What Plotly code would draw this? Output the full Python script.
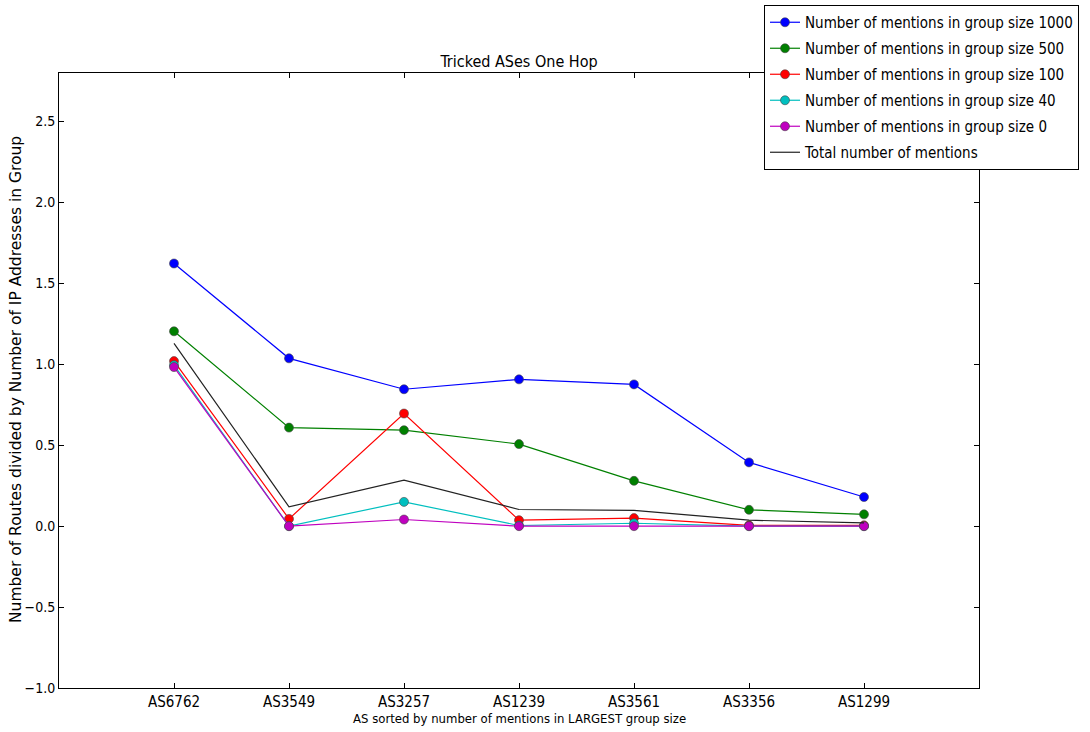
import plotly.graph_objects as go

# AS numbers, ordered by number of mentions in the largest group size
as_names = ["AS6762", "AS3549", "AS3257", "AS1239", "AS3561", "AS3356", "AS1299"]

# Routes divided by number of IP addresses in group, per group size
size_1000 = [1.623, 1.037, 0.846, 0.907, 0.876, 0.394, 0.180]
size_500 = [1.204, 0.609, 0.593, 0.507, 0.280, 0.101, 0.073]
size_100 = [1.020, 0.045, 0.696, 0.037, 0.050, 0.005, 0.005]
size_40 = [0.995, 0.000, 0.150, 0.004, 0.018, 0.000, 0.000]
size_0 = [0.983, 0.000, 0.041, 0.000, 0.000, 0.000, 0.000]
total = [1.130, 0.119, 0.284, 0.103, 0.097, 0.037, 0.020]

series = [
    ("Number of mentions in group size 1000", size_1000, "#0000ff"),
    ("Number of mentions in group size 500", size_500, "#008000"),
    ("Number of mentions in group size 100", size_100, "#ff0000"),
    ("Number of mentions in group size 40", size_40, "#00bfbf"),
    ("Number of mentions in group size 0", size_0, "#bf00bf"),
]

narrow = "DejaVu Sans Condensed, Liberation Sans Narrow, DejaVu Sans, sans-serif"

# plot area in pixels
L, R, T, B = 59, 979, 73, 688
W, H = 1090, 732
PW, PH = R - L, B - T

fig = go.Figure()
for i, (name, vals, color) in enumerate(series):
    fig.add_trace(go.Scatter(
        x=as_names, y=vals, name=name, mode="lines+markers",
        legendgroup=f"g{i}",
        line=dict(color=color, width=1.2),
        marker=dict(color=color, size=9, symbol="circle",
                    line=dict(color="#444444", width=0.6)),
    ))
fig.add_trace(go.Scatter(
    x=as_names, y=total, name="Total number of mentions", mode="lines",
    legendgroup="total",
    line=dict(color="#222222", width=1.2),
))

axis_common = dict(
    showgrid=False, zeroline=False, showline=True, linecolor="black",
    linewidth=1, mirror="allticks", ticks="inside", ticklen=5,
    tickcolor="black",
)

fig.update_layout(
    width=W, height=H,
    margin=dict(l=L, r=W - R, t=T, b=H - B, autoexpand=False),
    paper_bgcolor="white", plot_bgcolor="white",
    title=dict(text="Tricked ASes One Hop", x=(L + R) / 2 / W,
               xanchor="center", y=1 - 61 / H, yanchor="middle",
               font=dict(family=narrow, size=16, color="black")),
    xaxis=dict(**axis_common, type="category", range=[-1, 7],
               tickfont=dict(family=narrow, size=15, color="black")),
    yaxis=dict(
        **axis_common, range=[-1.0, 2.8],
        tickvals=[-1.0, -0.5, 0.0, 0.5, 1.0, 1.5, 2.0, 2.5], tickformat=".1f",
        tickfont=dict(family=narrow, size=14, color="black"),
    ),
    legend=dict(
        x=(764 - L) / PW, xanchor="left", y=1 + (T - 5) / PH, yanchor="top",
        bgcolor="white", bordercolor="black", borderwidth=1,
        font=dict(family=narrow, size=15, color="black"),
        tracegroupgap=3.5, itemwidth=30,
    ),
    showlegend=True,
    annotations=[
        dict(text="AS sorted by number of mentions in LARGEST group size",
             xref="paper", yref="paper", x=0.5, y=(B - 718) / PH,
             xanchor="center", yanchor="middle", showarrow=False,
             font=dict(family=narrow, size=13, color="black")),
        dict(text="Number of Routes divided by Number of IP Addresses in Group",
             xref="paper", yref="paper", x=(16 - L) / PW, y=(B - 380) / PH,
             xanchor="center", yanchor="middle", showarrow=False, textangle=-90,
             font=dict(family="DejaVu Sans, sans-serif", size=15.5, color="black")),
    ],
)

fig.write_html("out.html")
